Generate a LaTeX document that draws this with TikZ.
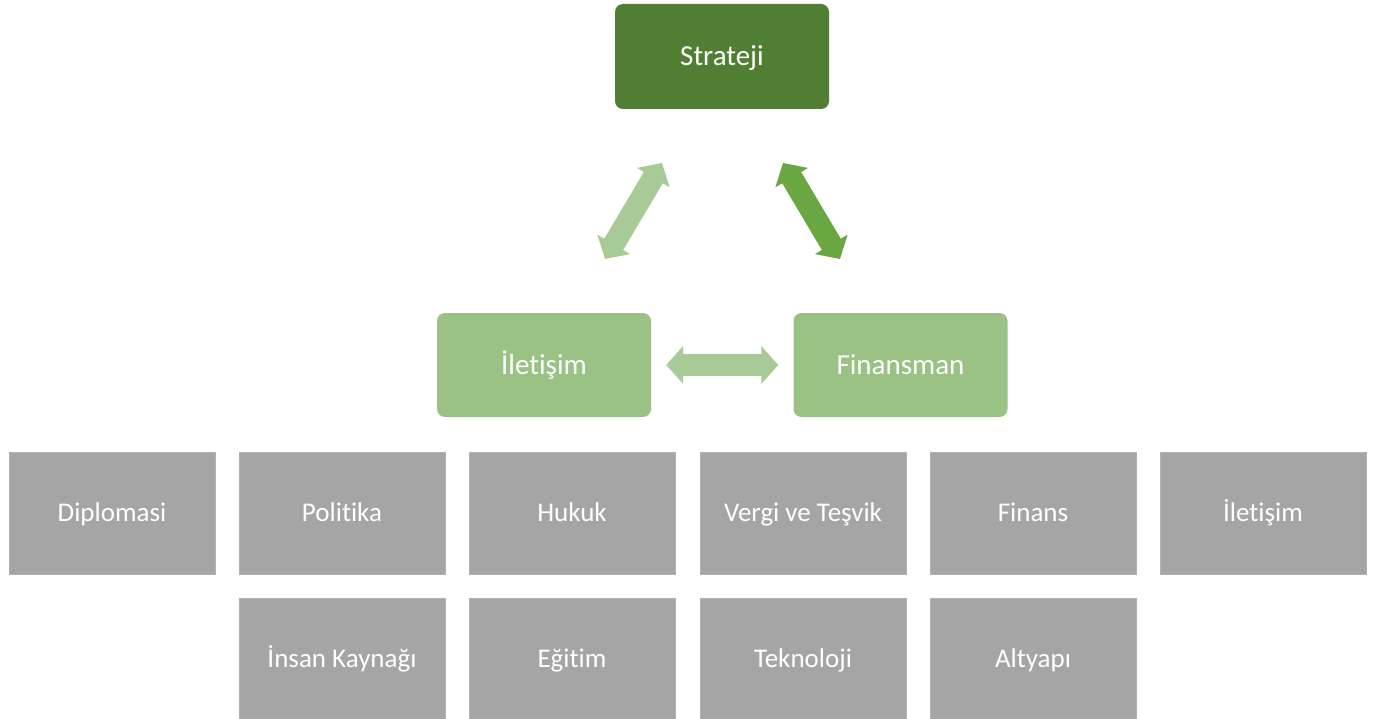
\documentclass[tikz,border=0pt]{standalone}
\usepackage{fontspec}
\setmainfont[RawFeature=-liga]{Carlito}
\usetikzlibrary{arrows.meta}
\definecolor{darkgreen}{HTML}{507E32}
\definecolor{lightgreen}{HTML}{9BC285}
\definecolor{arrowlight}{HTML}{A8CA97}
\definecolor{arrowdark}{HTML}{6AA642}
\definecolor{boxgray}{HTML}{A5A5A5}
\tikzset{
  topbox/.style={fill=darkgreen, rounded corners=8pt, minimum width=214pt, minimum height=105pt, inner sep=0pt, text=white, font=\fontsize{29}{33}\selectfont, text height=18.5pt, text depth=0pt},
  midbox/.style={fill=lightgreen, rounded corners=8pt, minimum width=214pt, minimum height=104pt, inner sep=0pt, text=white, font=\fontsize{29}{33}\selectfont, text height=18.5pt, text depth=0pt},
  graybox/.style={fill=boxgray, draw=boxgray!85!white, line width=0.8pt, minimum width=206pt, minimum height=122pt, inner sep=0pt, text=white, font=\fontsize{27}{31}\selectfont, text height=17.5pt, text depth=0pt},
  biarrow/.style={line width=22pt, {Triangle[length=17pt,width=37pt]}-{Triangle[length=17pt,width=37pt]}},
}
\begin{document}
\begin{tikzpicture}[x=1pt,y=-1pt]
\useasboundingbox (0,0) rectangle (1373,719);
\node[topbox] (strat) at (722,56.5) {Strateji};
\node[midbox] (ilet) at (544,365) {İletişim};
\node[midbox] (fin) at (900.5,365) {Finansman};
% gray boxes row 1
\node[graybox] (g1) at (112,513) {Diplomasi};
\node[graybox] (g2) at (342,513) {Politika};
\node[graybox] (g3) at (572,513) {Hukuk};
\node[graybox] (g4) at (803,513) {Vergi ve Teşvik};
\node[graybox] (g5) at (1033,513) {Finans};
\node[graybox] (g6) at (1263,513) {İletişim};
% gray boxes row 2
\node[graybox] (h1) at (342,659) {İnsan Kaynağı};
\node[graybox] (h2) at (572,659) {Eğitim};
\node[graybox] (h3) at (803,659) {Teknoloji};
\node[graybox] (h4) at (1033,659) {Altyapı};
% arrows
\coordinate (la) at (605,259);
\coordinate (lb) at (662,163);
\coordinate (ra) at (783,163);
\coordinate (rb) at (840,259);
\draw[biarrow, draw=arrowlight, fill=arrowlight] (la) -- (lb);
\draw[biarrow, draw=arrowdark, fill=arrowdark] (ra) -- (rb);
\draw[biarrow, draw=arrowlight, fill=arrowlight, shorten <=15pt, shorten >=15pt] (ilet) -- (fin);
\end{tikzpicture}
\end{document}
